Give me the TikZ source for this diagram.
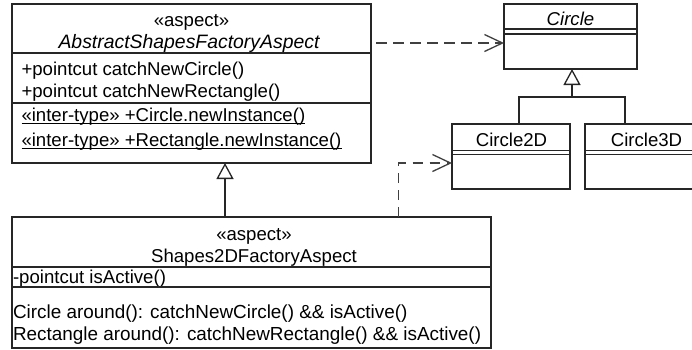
\documentclass[tikz,border=0pt]{standalone}
\usepackage{fontspec}
\setmainfont{Liberation Sans}
\usetikzlibrary{arrows.meta}
\begin{document}
\begin{tikzpicture}[x=1pt,y=-1pt,
  font=\fontsize{18.6}{22}\selectfont,
  box/.style={draw=black!85, line width=1.3pt, rectangle, inner sep=0pt, outer sep=0pt, anchor=north west},
  divl/.style={draw=black!85, line width=1.3pt},
  txt/.style={inner sep=0pt, outer sep=0pt, text=black},
  gen/.style={draw=black!85, line width=1.3pt, -{Triangle[open,length=16pt,width=17pt,fill=white]}},
  dep/.style={draw=black!75, line width=1.3pt, dash pattern=on 10.5pt off 6.5pt, -{Straight Barb[length=18pt,width=17pt]}},
  uline/.style={line width=1pt, draw=black}]
\useasboundingbox (0,0) rectangle (692,349);
\clip (0,0) rectangle (692,349);
\fill[white] (0,0) rectangle (692,349);

% AbstractShapesFactoryAspect
\node[box, minimum width=359pt, minimum height=159pt] (a1) at (12,4) {};
\node[txt, anchor=base] (a1s) at (191.5,26) {«aspect»};
\node[txt, anchor=base] (a1n) at (189,48) {\fontsize{19.4}{22}\selectfont\itshape AbstractShapesFactoryAspect};
\draw[divl] (12,53) -- (371,53);
\node[txt, anchor=base west] (a1p1) at (21.5,75) {+pointcut catchNewCircle()};
\node[txt, anchor=base west] (a1p2) at (21.5,97) {+pointcut catchNewRectangle()};
\draw[divl] (12,103) -- (371,103);
\node[txt, anchor=base west] (a1o1) at (21.5,121) {«inter-type» +Circle.newInstance()};
\node[txt, anchor=base west] (a1o2) at (21.5,146) {«inter-type» +Rectangle.newInstance()};
\draw[uline] ([yshift=-2.8pt]a1o1.base west) -- ([yshift=-2.8pt]a1o1.base east);
\draw[uline] ([yshift=-2.8pt]a1o2.base west) -- ([yshift=-2.8pt]a1o2.base east);

% Shapes2DFactoryAspect
\node[box, minimum width=479pt, minimum height=131pt] (a2) at (12,217) {};
\node[txt, anchor=base] (a2s) at (254,240) {«aspect»};
\node[txt, anchor=base] (a2n) at (254,262) {Shapes2DFactoryAspect};
\draw[divl] (12,267) -- (491,267);
\node[txt, anchor=base west] (a2p1) at (13,283) {-pointcut isActive()};
\draw[divl] (12,287) -- (491,287);
\node[txt, anchor=base west] (a2o1) at (13,318) {\fontsize{18.9}{22}\selectfont Circle around(): catchNewCircle() \&\& isActive()};
\node[txt, anchor=base west] (a2o2) at (13,340) {\fontsize{18.9}{22}\selectfont Rectangle around(): catchNewRectangle() \&\& isActive()};

% Circle
\node[box, minimum width=133pt, minimum height=65pt] (circ) at (504,4) {};
\node[txt, anchor=base] (circn) at (570.5,25.5) {\itshape Circle};
\draw[divl] (504,29) -- (637,29);
\draw[divl] (504,34) -- (637,34);

% Circle2D
\node[box, minimum width=118pt, minimum height=65pt] (c2) at (452,124) {};
\node[txt, anchor=base] (c2n) at (511.5,146) {Circle2D};
\draw[divl] (452,150.5) -- (570,150.5);
\draw[divl] (452,154.5) -- (570,154.5);

% Circle3D
\node[box, minimum width=118pt, minimum height=65pt] (c3) at (585,124) {};
\node[txt, anchor=base] (c3n) at (646.5,146) {Circle3D};
\draw[divl] (585,150.5) -- (703,150.5);
\draw[divl] (585,154.5) -- (703,154.5);

% generalization Circle2D/3D -> Circle
\coordinate (j) at (572,97);
\coordinate (j2) at (519,97);
\coordinate (j3) at (625,97);
\draw[divl] (j2 |- c2.north) -- (j2) -- (j3) -- (j3 |- c3.north);
\draw[gen] (j) -- (circ.south -| j);

% generalization Shapes2D -> Abstract
\coordinate (g1) at (225,190);
\draw[gen] (a2.north -| g1) -- (a1.south -| g1);

% dependencies
\coordinate (e1) at (376,43);
\draw[dep, shorten <=5pt] (a1.east |- e1) -- (circ.west |- e1);
\coordinate (d1) at (398.5,163);
\draw[dep] (a2.north -| d1) -- (d1) -- (c2.west |- d1);
\end{tikzpicture}
\end{document}
